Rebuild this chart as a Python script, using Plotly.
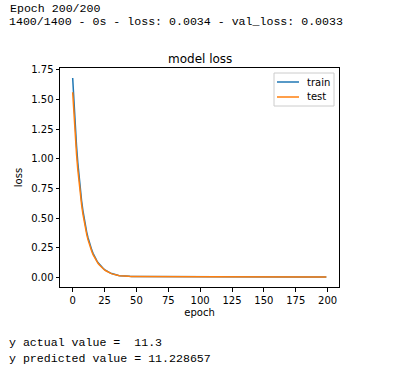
import plotly.graph_objects as go

epochs = list(range(200))

train_loss = [
    1.68, 1.45, 1.27, 1.11, 0.97, 0.85, 0.74, 0.645, 0.565, 0.495,
    0.435, 0.382, 0.336, 0.296, 0.261, 0.230, 0.203, 0.179, 0.158, 0.139,
    0.123, 0.109, 0.096, 0.085, 0.075, 0.066, 0.058, 0.051, 0.045, 0.040,
    0.035, 0.031, 0.027, 0.024, 0.021, 0.019, 0.017, 0.015, 0.0135, 0.0122,
    0.0111, 0.0100, 0.0097, 0.0094, 0.0092, 0.0090, 0.0088, 0.0087, 0.0085, 0.0084,
    0.0083, 0.0082, 0.0081, 0.0080, 0.0079, 0.0078, 0.0077, 0.0077, 0.0076, 0.0075,
    0.0075, 0.0074, 0.0073, 0.0073, 0.0072, 0.0071, 0.0071, 0.0070, 0.0070, 0.0069,
    0.0068, 0.0068, 0.0067, 0.0067, 0.0066, 0.0066, 0.0065, 0.0065, 0.0064, 0.0064,
    0.0063, 0.0063, 0.0062, 0.0062, 0.0061, 0.0061, 0.0060, 0.0060, 0.0059, 0.0059,
    0.0058, 0.0058, 0.0057, 0.0057, 0.0057, 0.0056, 0.0056, 0.0055, 0.0055, 0.0054,
    0.0054, 0.0054, 0.0053, 0.0053, 0.0052, 0.0052, 0.0052, 0.0051, 0.0051, 0.0050,
    0.0050, 0.0050, 0.0049, 0.0049, 0.0049, 0.0048, 0.0048, 0.0048, 0.0047, 0.0047,
    0.0047, 0.0046, 0.0046, 0.0046, 0.0045, 0.0045, 0.0045, 0.0045, 0.0044, 0.0044,
    0.0044, 0.0043, 0.0043, 0.0043, 0.0043, 0.0042, 0.0042, 0.0042, 0.0042, 0.0041,
    0.0041, 0.0041, 0.0041, 0.0040, 0.0040, 0.0040, 0.0040, 0.0039, 0.0039, 0.0039,
    0.0039, 0.0039, 0.0038, 0.0038, 0.0038, 0.0038, 0.0038, 0.0037, 0.0037, 0.0037,
    0.0037, 0.0037, 0.0036, 0.0036, 0.0036, 0.0036, 0.0036, 0.0036, 0.0035, 0.0035,
    0.0035, 0.0035, 0.0035, 0.0035, 0.0035, 0.0034, 0.0034, 0.0034, 0.0034, 0.0034,
    0.0034, 0.0034, 0.0034, 0.0034, 0.0034, 0.0034, 0.0034, 0.0034, 0.0034, 0.0034,
    0.0034, 0.0034, 0.0034, 0.0034, 0.0034, 0.0034, 0.0034, 0.0034, 0.0034, 0.0034,
]

test_loss = [
    1.56, 1.36, 1.19, 1.04, 0.91, 0.80, 0.70, 0.612, 0.536, 0.470,
    0.412, 0.362, 0.318, 0.280, 0.247, 0.218, 0.192, 0.170, 0.150, 0.133,
    0.117, 0.104, 0.092, 0.081, 0.072, 0.063, 0.056, 0.049, 0.043, 0.038,
    0.034, 0.030, 0.026, 0.023, 0.021, 0.018, 0.016, 0.0145, 0.013, 0.0118,
    0.0107, 0.0098, 0.0095, 0.0092, 0.0090, 0.0088, 0.0086, 0.0085, 0.0083, 0.0082,
    0.0081, 0.0080, 0.0079, 0.0078, 0.0077, 0.0076, 0.0076, 0.0075, 0.0074, 0.0074,
    0.0073, 0.0072, 0.0072, 0.0071, 0.0070, 0.0070, 0.0069, 0.0069, 0.0068, 0.0067,
    0.0067, 0.0066, 0.0066, 0.0065, 0.0065, 0.0064, 0.0064, 0.0063, 0.0063, 0.0062,
    0.0062, 0.0061, 0.0061, 0.0060, 0.0060, 0.0059, 0.0059, 0.0058, 0.0058, 0.0057,
    0.0057, 0.0056, 0.0056, 0.0056, 0.0055, 0.0055, 0.0054, 0.0054, 0.0053, 0.0053,
    0.0053, 0.0052, 0.0052, 0.0051, 0.0051, 0.0051, 0.0050, 0.0050, 0.0049, 0.0049,
    0.0049, 0.0048, 0.0048, 0.0048, 0.0047, 0.0047, 0.0047, 0.0046, 0.0046, 0.0046,
    0.0045, 0.0045, 0.0045, 0.0044, 0.0044, 0.0044, 0.0044, 0.0043, 0.0043, 0.0043,
    0.0042, 0.0042, 0.0042, 0.0042, 0.0041, 0.0041, 0.0041, 0.0041, 0.0040, 0.0040,
    0.0040, 0.0040, 0.0039, 0.0039, 0.0039, 0.0039, 0.0038, 0.0038, 0.0038, 0.0038,
    0.0038, 0.0037, 0.0037, 0.0037, 0.0037, 0.0037, 0.0036, 0.0036, 0.0036, 0.0036,
    0.0036, 0.0035, 0.0035, 0.0035, 0.0035, 0.0035, 0.0035, 0.0034, 0.0034, 0.0034,
    0.0034, 0.0034, 0.0034, 0.0034, 0.0033, 0.0033, 0.0033, 0.0033, 0.0033, 0.0033,
    0.0033, 0.0033, 0.0033, 0.0033, 0.0033, 0.0033, 0.0033, 0.0033, 0.0033, 0.0033,
    0.0033, 0.0033, 0.0033, 0.0033, 0.0033, 0.0033, 0.0033, 0.0033, 0.0033, 0.0033,
]

series_names = ["train", "test"]
series_colors = ["#1f77b4", "#ff7f0e"]

x_ticks = [0, 25, 50, 75, 100, 125, 150, 175, 200]
y_ticks = [0.00, 0.25, 0.50, 0.75, 1.00, 1.25, 1.50, 1.75]

log_lines_top = ["Epoch 200/200", "1400/1400 - 0s - loss: 0.0034 - val_loss: 0.0033"]
log_lines_bottom = ["y actual value =  11.3", "y predicted value = 11.228657"]

# page pixels (body margin removed by post_script)
W, H = 404, 375
PL, PT, PR, PB = 60, 68, 339, 287          # plot frame
L, T = PL, PT
PW, PH = PR - PL, PB - PT
R, B = W - L - PW, H - T - PH

def px(xp):
    return (xp - L) / PW

def py(yp):
    return 1 - (yp - T) / PH

fig = go.Figure()
for name, vals, col in zip(series_names, [train_loss, test_loss], series_colors):
    fig.add_trace(go.Scatter(x=epochs, y=vals, mode="lines", name=name,
                             line=dict(color=col, width=1.5), showlegend=False))

axis_common = dict(showline=True, linecolor="black", linewidth=1, mirror=True,
                   ticks="outside", ticklen=3.5, tickcolor="black", tickwidth=1,
                   showgrid=False, zeroline=False,
                   tickfont=dict(family="DejaVu Sans", size=10, color="black"))

fig.update_layout(
    width=W, height=H,
    margin=dict(l=L, r=R, t=T, b=B, autoexpand=False),
    paper_bgcolor="white", plot_bgcolor="white",
    xaxis=dict(range=[-9.95, 208.95], tickvals=x_ticks,
               ticktext=[str(v) for v in x_ticks],
               title=dict(text="epoch", font=dict(family="DejaVu Sans", size=10, color="black"), standoff=4),
               **axis_common),
    yaxis=dict(range=[-0.0806, 1.7639], tickvals=y_ticks,
               ticktext=[f"{v:.2f}" for v in y_ticks],
               title=dict(text="loss", font=dict(family="DejaVu Sans", size=10, color="black"), standoff=6),
               **axis_common),
)

# legend box (matplotlib style)
fig.add_shape(type="rect", xref="paper", yref="paper",
              x0=px(274), x1=px(334), y0=py(106), y1=py(73),
              line=dict(color="#cccccc", width=1), fillcolor="rgba(255,255,255,0.8)", layer="above")
for i, (name, col) in enumerate(zip(series_names, series_colors)):
    ly = 82 + 15 * i
    fig.add_shape(type="line", xref="paper", yref="paper",
                  x0=px(277), x1=px(299), y0=py(ly), y1=py(ly),
                  line=dict(color=col, width=1.5), layer="above")
    fig.add_annotation(text=name, xref="paper", yref="paper", x=px(305), y=py(ly),
                       xanchor="left", yanchor="middle", showarrow=False,
                       font=dict(family="DejaVu Sans", size=10, color="black"))

fig.add_annotation(text="model loss", xref="paper", yref="paper", x=0.5, y=py(59),
                   xanchor="center", yanchor="middle", showarrow=False,
                   font=dict(family="DejaVu Sans", size=12, color="black"))

mono = dict(family="Liberation Mono", size=11.6, color="black")
for text, ypix, xpix in [(log_lines_top[0], 8, 8), (log_lines_top[1], 21.5, 7),
                         (log_lines_bottom[0], 342, 7), (log_lines_bottom[1], 358, 7)]:
    fig.add_annotation(text=text, xref="paper", yref="paper", x=px(xpix), y=py(ypix),
                       xanchor="left", yanchor="middle", showarrow=False, font=mono)

fig.write_html("out.html", config={"displayModeBar": False},
               post_script="document.body.style.margin='0';document.body.style.padding='0';")
